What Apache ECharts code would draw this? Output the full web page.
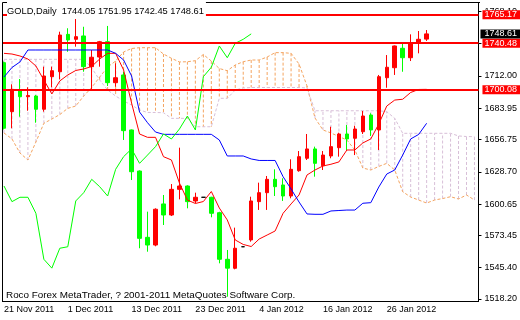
<!DOCTYPE html>
<html><head><meta charset="utf-8">
<script src="https://cdn.jsdelivr.net/npm/echarts@6/dist/echarts.min.js"></script>
<style>html,body{margin:0;padding:0;background:#fff}#c{width:520px;height:320px}</style>
</head><body><div id="c"></div>
<script>
const symbolName = 'GOLD,Daily';
const copyright = 'Roco Forex MetaTrader, ? 2001-2011 MetaQuotes Software Corp.';
const categories = ['21 Nov 2011','22 Nov 2011','23 Nov 2011','24 Nov 2011','25 Nov 2011','28 Nov 2011','29 Nov 2011','30 Nov 2011',
 '1 Dec 2011','2 Dec 2011','5 Dec 2011','6 Dec 2011','7 Dec 2011','8 Dec 2011','9 Dec 2011','12 Dec 2011',
 '13 Dec 2011','14 Dec 2011','15 Dec 2011','16 Dec 2011','19 Dec 2011','20 Dec 2011','21 Dec 2011','22 Dec 2011',
 '23 Dec 2011','26 Dec 2011','27 Dec 2011','28 Dec 2011','29 Dec 2011','30 Dec 2011','2 Jan 2012','3 Jan 2012',
 '4 Jan 2012','5 Jan 2012','6 Jan 2012','9 Jan 2012','10 Jan 2012','11 Jan 2012','12 Jan 2012','13 Jan 2012',
 '16 Jan 2012','17 Jan 2012','18 Jan 2012','19 Jan 2012','20 Jan 2012','23 Jan 2012','24 Jan 2012','25 Jan 2012',
 '26 Jan 2012','27 Jan 2012','30 Jan 2012','31 Jan 2012','1 Feb 2012','2 Feb 2012',
 '3 Feb 2012','6 Feb 2012','7 Feb 2012','8 Feb 2012','9 Feb 2012','10 Feb 2012'];
const lastBarIndex = 53;
const opens  = [1723.6,1681.0,1699.2,1694.0,1694.6,1683.1,1711.4,1715.7,1748.2,1743.9,1746.8,1720.1,1728.5,1741.8,1706.2,1712.9,1665.1,1629.4,1571.8,1565.1,1600.8,1591.2,1613.5,1616.4,1603.4,1606.6,1606.6,1593.2,1552.7,1544.9,1563.6,1569.5,1602.8,1610.6,1622.2,1617.3,1607.7,1629.7,1640.5,1648.6,1634.0,1642.5,1649.7,1661.6,1657.9,1663.6,1678.1,1665.1,1710.5,1719.2,1736.1,1727.9,1740.9,1744.05];
const highs  = [1724.5,1704.8,1709.4,1702.2,1695.5,1720.1,1720.1,1750.5,1753.5,1763.0,1754.8,1734.6,1742.5,1755.5,1723.0,1715.7,1665.5,1630.0,1594.1,1597.0,1608.6,1618.1,1649.7,1617.0,1610.6,1606.6,1607.0,1594.0,1560.8,1580.2,1563.6,1607.1,1619.3,1625.1,1630.9,1623.1,1639.6,1646.8,1661.6,1650.6,1646.8,1667.9,1662.7,1669.4,1668.8,1681.6,1679.6,1712.9,1730.2,1738.5,1740.4,1748.2,1751.1,1751.95];
const lows   = [1665.5,1666.6,1676.6,1681.8,1671.4,1681.0,1702.2,1709.1,1733.1,1737.5,1715.7,1700.4,1720.1,1703.3,1702.7,1656.4,1621.6,1562.3,1559.3,1564.0,1582.5,1590.3,1604.8,1597.0,1601.4,1606.6,1589.2,1549.2,1520.2,1544.0,1563.6,1568.0,1595.6,1595.6,1607.7,1603.4,1605.7,1628.8,1639.0,1624.5,1630.3,1640.5,1641.9,1647.7,1643.3,1661.6,1659.9,1647.7,1701.8,1712.9,1715.7,1725.0,1731.7,1742.45];
const closes = [1666.6,1700.4,1694.0,1695.0,1683.1,1712.0,1716.6,1747.6,1743.3,1746.2,1720.1,1728.3,1741.8,1706.2,1710.5,1664.5,1628.8,1570.9,1565.1,1596.2,1591.2,1613.5,1616.4,1602.8,1606.6,1606.6,1592.7,1552.7,1545.0,1562.3,1563.6,1603.4,1610.6,1622.2,1615.8,1607.7,1630.9,1641.9,1648.6,1636.1,1643.3,1650.6,1661.6,1657.3,1665.9,1677.2,1665.1,1711.4,1719.6,1738.1,1727.9,1740.4,1743.9,1748.61];
const tenkan = [1731.7,1731.1,1729.4,1726.8,1720.7,1708.5,1696.4,1707.7,1712.9,1716.8,1718.1,1720.3,1726.8,1731.7,1731.7,1717.2,1688.5,1661.6,1658.7,1658.7,1641.9,1639.0,1619.0,1604.2,1601.2,1602.9,1611.6,1597.3,1586.9,1569.5,1565.6,1563.8,1570.3,1573.8,1577.3,1592.7,1600.8,1608.6,1626.0,1630.3,1633.8,1635.3,1637.3,1647.7,1647.7,1653.8,1657.3,1670.3,1685.9,1691.1,1691.8,1697.7,1700.3,1700.4];
const kijun  = [1711.1,1719.4,1724.2,1734.6,1734.6,1734.6,1734.6,1734.6,1734.6,1734.6,1734.6,1734.6,1734.6,1734.6,1731.7,1725.9,1712.0,1680.7,1671.4,1663.3,1661.3,1661.3,1661.3,1661.3,1661.3,1661.3,1661.3,1656.4,1642.5,1642.5,1642.5,1639.9,1638.6,1638.6,1638.6,1624.5,1613.8,1602.5,1592.1,1591.8,1591.8,1594.7,1595.1,1595.5,1595.5,1601.4,1601.9,1615.5,1626.8,1630.3,1643.3,1657.3,1661.2,1670.9];
const chikou = [1616.4,1602.8,1606.6,1606.6,1592.7,1552.7,1545.0,1562.3,1563.6,1603.4,1610.6,1622.2,1615.8,1607.7,1630.9,1641.9,1648.6,1636.1,1643.3,1650.6,1661.6,1657.3,1665.9,1677.2,1665.1,1711.4,1719.6,1738.1,1727.9,1740.4,1743.9,1748.61];
const spanA  = [1662.5,1657.3,1645.1,1639.0,1654.6,1670.9,1674.6,1678.5,1683.9,1685.9,1694.6,1702.0,1711.1,1719.8,1725.0,1732.9,1735.9,1736.6,1736.6,1736.6,1731.1,1727.4,1724.2,1724.4,1725.3,1730.7,1725.0,1718.5,1716.6,1721.6,1724.4,1725.9,1725.9,1728.5,1732.3,1732.3,1731.7,1722.4,1703.3,1675.5,1665.1,1662.5,1659.4,1656.4,1647.7,1632.0,1630.3,1633.4,1636.1,1630.3,1611.4,1606.8,1604.2,1601.6,1604.2,1605.5,1607.1,1605.1,1608.6,1604.2];
const spanB  = [1726.5,1726.5,1726.5,1726.5,1726.5,1726.5,1726.5,1726.5,1726.5,1726.5,1726.5,1719.0,1708.5,1699.8,1694.6,1690.3,1686.8,1682.5,1680.3,1680.3,1680.1,1675.2,1675.2,1675.2,1667.9,1667.9,1667.9,1692.6,1692.6,1699.8,1701.6,1702.0,1702.0,1702.0,1702.0,1702.0,1702.0,1702.0,1701.6,1681.8,1681.8,1681.8,1681.8,1681.8,1681.8,1681.8,1681.8,1681.8,1681.0,1675.2,1662.2,1662.2,1662.2,1662.2,1662.2,1662.2,1662.2,1659.9,1659.4,1659.3];
const yTickValues = [1518.20,1545.40,1573.45,1600.65,1628.70,1656.75,1683.95,1712.00,1740.05,1768.10];
const levelLines = [1765.17, 1740.48, 1700.08];
const lastPrice = 1748.61;

const FONT = 'Liberation Sans';
const SANDY = '#F4A460', THISTLE = '#D8BFD8';
const ohlc = opens.map((o, i) => [o, closes[i], lows[i], highs[i]]);
const showDate = (i) => i % 8 === 0 && i <= lastBarIndex;
const li = lastBarIndex;
const header = symbolName + '  ' + [opens[li], highs[li], lows[li], closes[li]].map(v => v.toFixed(2)).join(' ');

const chart = echarts.init(document.getElementById('c'));
chart.setOption({
  animation: false,
  backgroundColor: '#ffffff',
  textStyle: {fontFamily: FONT},
  title: [
    {text: header, left: 7, top: 0, padding: [6, 2, 3, 0], backgroundColor: '#ffffff', z: 200,
     textStyle: {fontFamily: FONT, fontSize: 9.3, fontWeight: 'normal', color: '#000', lineHeight: 10}},
    {text: copyright, left: 6, top: 290.5, padding: 0, z: 200,
     textStyle: {fontFamily: FONT, fontSize: 9.9, fontWeight: 'normal', color: '#000', lineHeight: 10}}
  ],
  grid: {left: -0.5, right: 40.5, top: 2.5, bottom: 18.5},
  xAxis: {
    type: 'category', data: categories, boundaryGap: true,
    axisLine: {lineStyle: {color: '#000', width: 1}},
    axisTick: {alignWithLabel: true, interval: showDate, length: 4, lineStyle: {color: '#000'}},
    axisLabel: {interval: showDate, align: 'left', margin: 4, fontFamily: FONT, fontSize: 9, color: '#000'},
    splitLine: {show: false}
  },
  yAxis: {
    type: 'value', position: 'right', min: 1516.02, max: 1775.88, scale: true,
    axisLine: {show: true, lineStyle: {color: '#000'}},
    axisTick: {show: true, customValues: yTickValues, length: 3, lineStyle: {color: '#000'}},
    axisLabel: {customValues: yTickValues, formatter: v => Number(v).toFixed(2), margin: 6, align: 'left',
                fontFamily: FONT, fontSize: 9, color: '#000'},
    splitLine: {show: false}
  },
  graphic: [
    {type: 'rect', shape: {x: 0, y: 0, width: 2, height: 320}, style: {fill: '#fff'}, z: 150, silent: true},
    {type: 'line', shape: {x1: 2.5, y1: 2.5, x2: 2.5, y2: 301.5}, style: {stroke: '#000', lineWidth: 1}, z: 150, silent: true},
    {type: 'line', shape: {x1: 2.5, y1: 2.5, x2: 480, y2: 2.5}, style: {stroke: '#000', lineWidth: 1}, z: 150, silent: true}
  ],
  series: [
    {
      type: 'custom', name: 'Kumo', z: 1, silent: true,
      data: spanA.map((a, i) => [i, a, spanB[i]]),
      encode: {x: 0, y: [1, 2]},
      renderItem: (params, api) => {
        const i = api.value(0), a = api.value(1), b = api.value(2);
        const p1 = api.coord([i, a]), p2 = api.coord([i, b]);
        return {type: 'line', shape: {x1: p1[0], y1: p1[1], x2: p2[0], y2: p2[1]},
                style: {stroke: a > b ? SANDY : THISTLE, lineWidth: 1, lineDash: [3, 2]}};
      }
    },
    {type: 'line', name: 'SpanA', data: spanA, showSymbol: false, silent: true, z: 2,
     lineStyle: {color: SANDY, width: 1, type: [3, 2]}},
    {type: 'line', name: 'SpanB', data: spanB, showSymbol: false, silent: true, z: 2,
     lineStyle: {color: THISTLE, width: 1, type: [3, 2]}},
    {
      type: 'candlestick', name: 'GOLD', data: ohlc, barWidth: 4, z: 3, silent: true,
      itemStyle: {color: '#FF0000', color0: '#00FF00', borderColor: '#FF0000', borderColor0: '#00FF00',
                  borderColorDoji: '#000000', borderWidth: 1}
    },
    {type: 'line', name: 'Tenkan', data: tenkan, showSymbol: false, silent: true, z: 4,
     lineStyle: {color: '#FF0000', width: 1}},
    {type: 'line', name: 'Kijun', data: kijun, showSymbol: false, silent: true, z: 4,
     lineStyle: {color: '#0000FF', width: 1}},
    {type: 'line', name: 'Chikou', data: chikou, showSymbol: false, silent: true, z: 4,
     lineStyle: {color: '#00FF00', width: 1}},
    {
      type: 'line', name: 'Levels', data: [], z: 50, silent: true,
      markLine: {
        silent: true, symbol: ['none', 'none'], animation: false,
        lineStyle: {color: '#FF0000', width: 2, type: 'solid'},
        label: {position: 'end', distance: 4, formatter: p => Number(p.value).toFixed(2),
                backgroundColor: '#FF0000', color: '#fff', fontFamily: FONT, fontSize: 9,
                lineHeight: 9, padding: [0, 20, 0, 2]},
        data: levelLines.map(v => ({yAxis: v})).concat([
          {yAxis: lastPrice, lineStyle: {color: 'rgba(0,0,0,0)', width: 0},
           label: {backgroundColor: '#000', color: '#fff', distance: 2, padding: [0, 20, 0, 4]}}
        ])
      }
    }
  ]
});
</script></body></html>
